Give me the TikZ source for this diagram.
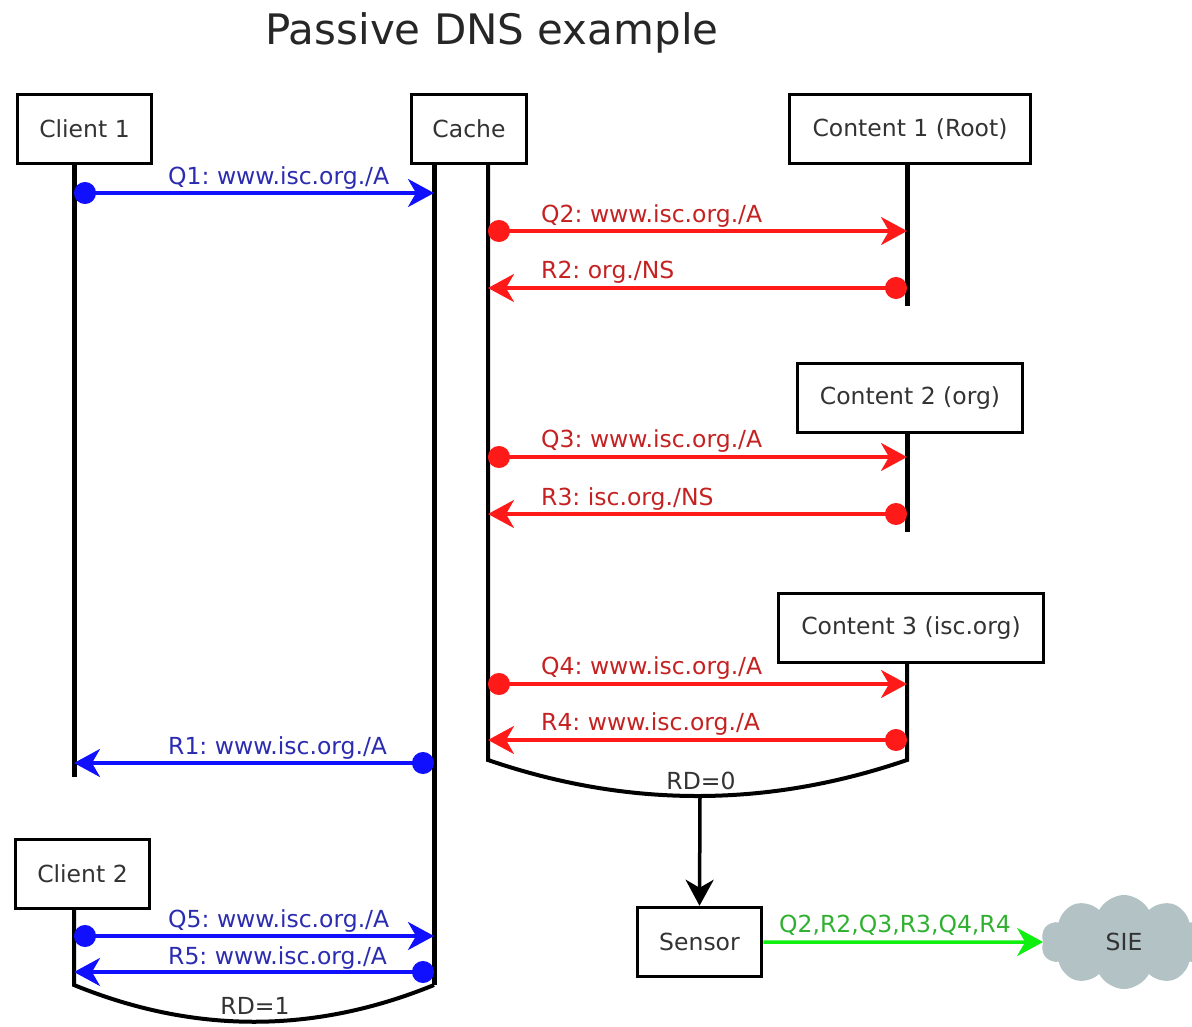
\documentclass[tikz,border=0pt]{standalone}
\usepackage{fontspec}
\setmainfont{DejaVu Sans}
\usetikzlibrary{arrows.meta,shapes.symbols}

\definecolor{txtgray}{HTML}{333333}
\definecolor{msgblue}{HTML}{1010FF}
\definecolor{lblblue}{HTML}{2C2CB0}
\definecolor{msgred}{HTML}{FF1A1A}
\definecolor{lblred}{HTML}{C42222}
\definecolor{msggreen}{HTML}{10F010}
\definecolor{lblgreen}{HTML}{30B030}
\definecolor{cloudgray}{HTML}{B2C2C5}

\begin{document}
\frenchspacing
\begin{tikzpicture}[x=1pt,y=-1pt,
  box/.style={draw=black, line width=3.5pt, fill=white, text=txtgray,
    font=\fontsize{23.5}{28}\selectfont, minimum height=69pt, inner sep=0pt},
  life/.style={line width=5pt, black},
  tip/.style={-{Stealth[length=26pt,width=28pt,inset=8pt]}},
  msg/.style={line width=3.5pt,
    {Circle[length=22pt]}-{Stealth[length=26pt,width=28pt,inset=8pt]}},
  lbl/.style={anchor=base west, font=\fontsize{23.5}{28}\selectfont, inner sep=0pt},
  rdlbl/.style={font=\fontsize{23.5}{28}\selectfont, text=txtgray, inner sep=0pt},
]
\useasboundingbox (0,0) rectangle (1192,1026);

% title
\node[font=\fontsize{42}{48}\selectfont, text=black!85] (title) at (492,33) {Passive DNS example};

% participants
\node[box, minimum width=134pt] (client1) at (84.5,129) {Client 1};
\node[box, minimum width=115pt] (cache)   at (469,129) {Cache};
\node[box, minimum width=241pt] (root)    at (910,129) {Content 1 (Root)};
\node[box, minimum width=225pt] (org)     at (910,398) {Content 2 (org)};
\node[box, minimum width=265pt] (isc)     at (911,628) {Content 3 (isc.org)};
\node[box, minimum width=134pt] (client2) at (82.5,874) {Client 2};
\node[box, minimum width=124pt] (sensor)  at (699.5,942) {Sensor};
\node[cloud, cloud puffs=10, cloud puff arc=125, aspect=1.6, fill=cloudgray,
      minimum width=166pt, minimum height=94pt, inner sep=0pt,
      text=txtgray, font=\fontsize{23.5}{28}\selectfont] (sie) at (1124,942) {SIE};

% lifeline end points
\coordinate (c1a) at (74,165);   \coordinate (c1b) at (74,777);
\coordinate (cla) at (434,165);  \coordinate (clb) at (434,985);
\coordinate (cra) at (488,165);  \coordinate (crb) at (488,760);
\coordinate (roota) at (907,165); \coordinate (rootb) at (907,306);
\coordinate (orga) at (907,434);  \coordinate (orgb) at (907,532);
\coordinate (isca) at (907,664);  \coordinate (iscb) at (907,760);
\coordinate (c2a) at (74,910);    \coordinate (c2b) at (74,985);
\coordinate (rd0) at (700,797);

% lifelines
\draw[life] (c1a) -- (c1b);
\draw[life] (cla) -- (clb);
\draw[life] (roota) -- (rootb);
\draw[life] (orga) -- (orgb);
\draw[life, line width=4pt] (cra) -- (crb)
  .. controls (628,808) and (767,808) .. (iscb) -- (isca);
\draw[life, line width=4pt] (c2a) -- (c2b)
  .. controls (194,1034) and (314,1034) .. (clb);

% recursion-desired flags
\node[rdlbl] (rd0lbl) at (701,781) {RD=0};
\node[rdlbl] (rd1lbl) at (255,1006) {RD=1};

% message end points
\coordinate (q1a) at (74,193);  \coordinate (q1b) at (434,193);
\coordinate (q2a) at (488,231); \coordinate (q2b) at (907,231);
\coordinate (r2a) at (907,288); \coordinate (r2b) at (488,288);
\coordinate (q3a) at (488,457); \coordinate (q3b) at (907,457);
\coordinate (r3a) at (907,514); \coordinate (r3b) at (488,514);
\coordinate (q4a) at (488,684); \coordinate (q4b) at (907,684);
\coordinate (r4a) at (907,740); \coordinate (r4b) at (488,740);
\coordinate (r1a) at (434,763); \coordinate (r1b) at (74,763);
\coordinate (q5a) at (74,936);  \coordinate (q5b) at (434,936);
\coordinate (r5a) at (434,972); \coordinate (r5b) at (74,972);

% client <-> cache (blue)
\draw[msg, msgblue] (q1a) -- (q1b);
\node[lbl, text=lblblue] (q1l) at (168,184) {Q1: www.isc.org./A};
\draw[msg, msgblue] (r1a) -- (r1b);
\node[lbl, text=lblblue] (r1l) at (168,754) {R1: www.isc.org./A};
\draw[msg, msgblue] (q5a) -- (q5b);
\node[lbl, text=lblblue] (q5l) at (168,927) {Q5: www.isc.org./A};
\draw[msg, msgblue] (r5a) -- (r5b);
\node[lbl, text=lblblue] (r5l) at (168,964) {R5: www.isc.org./A};

% cache <-> content servers (red)
\draw[msg, msgred] (q2a) -- (q2b);
\node[lbl, text=lblred] (q2l) at (541,222) {Q2: www.isc.org./A};
\draw[msg, msgred] (r2a) -- (r2b);
\node[lbl, text=lblred] (r2l) at (541,278) {R2: org./NS};
\draw[msg, msgred] (q3a) -- (q3b);
\node[lbl, text=lblred] (q3l) at (541,447) {Q3: www.isc.org./A};
\draw[msg, msgred] (r3a) -- (r3b);
\node[lbl, text=lblred] (r3l) at (541,505) {R3: isc.org./NS};
\draw[msg, msgred] (q4a) -- (q4b);
\node[lbl, text=lblred] (q4l) at (541,674) {Q4: www.isc.org./A};
\draw[msg, msgred] (r4a) -- (r4b);
\node[lbl, text=lblred] (r4l) at (541,730) {R4: www.isc.org./A};

% sensor feed
\draw[line width=3.5pt, tip] (rd0) -- (sensor.north);
\draw[line width=3.5pt, msggreen, tip] (sensor.east) -- (sie.west);
\node[lbl, text=lblgreen] (feedl) at (779,932) {Q2,R2,Q3,R3,Q4,R4};
\end{tikzpicture}
\end{document}
